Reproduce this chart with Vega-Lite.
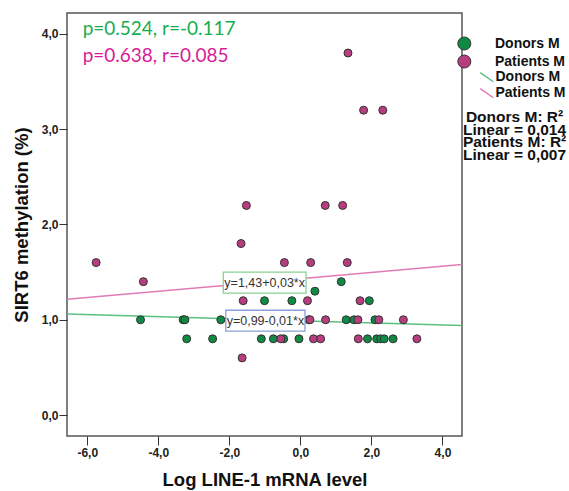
{
  "$schema": "https://vega.github.io/schema/vega-lite/v6.json",
  "width": 395,
  "height": 423,
  "autosize": "none",
  "padding": {"left": 67, "top": 13, "right": 107, "bottom": 55},
  "background": "white",
  "config": {
    "font": "Liberation Sans",
    "view": {"stroke": "#555555", "strokeWidth": 1.5}
  },
  "datasets": {
    "pts": [
      {"group": "Donors M", "x": -4.50, "y": 1.0},
      {"group": "Donors M", "x": -3.30, "y": 1.0},
      {"group": "Donors M", "x": -3.25, "y": 1.0},
      {"group": "Donors M", "x": -2.24, "y": 1.0},
      {"group": "Donors M", "x": -3.20, "y": 0.8},
      {"group": "Donors M", "x": -2.47, "y": 0.8},
      {"group": "Donors M", "x": -1.01, "y": 1.2},
      {"group": "Donors M", "x": -0.24, "y": 1.2},
      {"group": "Donors M", "x": 1.94, "y": 1.2},
      {"group": "Donors M", "x": 1.15, "y": 1.4},
      {"group": "Donors M", "x": 0.41, "y": 1.3},
      {"group": "Donors M", "x": 0.24, "y": 1.0},
      {"group": "Donors M", "x": 1.29, "y": 1.0},
      {"group": "Donors M", "x": 1.51, "y": 1.0},
      {"group": "Donors M", "x": 2.10, "y": 1.0},
      {"group": "Donors M", "x": -1.10, "y": 0.8},
      {"group": "Donors M", "x": -0.76, "y": 0.8},
      {"group": "Donors M", "x": -0.47, "y": 0.8},
      {"group": "Donors M", "x": -0.04, "y": 0.8},
      {"group": "Donors M", "x": 1.89, "y": 0.8},
      {"group": "Donors M", "x": 2.15, "y": 0.8},
      {"group": "Donors M", "x": 2.26, "y": 0.8},
      {"group": "Donors M", "x": 2.36, "y": 0.8},
      {"group": "Donors M", "x": 2.61, "y": 0.8},
      {"group": "Patients M", "x": 1.34, "y": 3.8},
      {"group": "Patients M", "x": 1.78, "y": 3.2},
      {"group": "Patients M", "x": 2.32, "y": 3.2},
      {"group": "Patients M", "x": -1.52, "y": 2.2},
      {"group": "Patients M", "x": 0.70, "y": 2.2},
      {"group": "Patients M", "x": 1.19, "y": 2.2},
      {"group": "Patients M", "x": -1.67, "y": 1.8},
      {"group": "Patients M", "x": -5.75, "y": 1.6},
      {"group": "Patients M", "x": -0.45, "y": 1.6},
      {"group": "Patients M", "x": 0.29, "y": 1.6},
      {"group": "Patients M", "x": 1.32, "y": 1.6},
      {"group": "Patients M", "x": -4.42, "y": 1.4},
      {"group": "Patients M", "x": -1.61, "y": 1.2},
      {"group": "Patients M", "x": 0.20, "y": 1.2},
      {"group": "Patients M", "x": 1.68, "y": 1.2},
      {"group": "Patients M", "x": 0.27, "y": 1.0},
      {"group": "Patients M", "x": 0.71, "y": 1.0},
      {"group": "Patients M", "x": 1.62, "y": 1.0},
      {"group": "Patients M", "x": 2.21, "y": 1.0},
      {"group": "Patients M", "x": 2.90, "y": 1.0},
      {"group": "Patients M", "x": -0.55, "y": 0.8},
      {"group": "Patients M", "x": 0.37, "y": 0.8},
      {"group": "Patients M", "x": 0.57, "y": 0.8},
      {"group": "Patients M", "x": 1.63, "y": 0.8},
      {"group": "Patients M", "x": 3.28, "y": 0.8},
      {"group": "Patients M", "x": -1.64, "y": 0.6}
    ],
    "fits": [
      {"line": "Donors M fit", "x": -6.57, "y": 1.06},
      {"line": "Donors M fit", "x": 4.55, "y": 0.94},
      {"line": "Patients M fit", "x": -6.57, "y": 1.215},
      {"line": "Patients M fit", "x": 4.55, "y": 1.58}
    ],
    "eqs": [
      {"line": "Patients M", "label": "y=1,43+0,03*x", "x1": -2.17, "x2": 0.16, "y1": 1.28, "y2": 1.50, "xc": -1.005, "yc": 1.39},
      {"line": "Donors M", "label": "y=0,99-0,01*x", "x1": -2.10, "x2": 0.13, "y1": 0.88, "y2": 1.10, "xc": -0.985, "yc": 0.99}
    ],
    "stats": [
      {"group": "Donors M", "label": "p=0.524, r=-0.117", "x": -6.13, "y": 3.99},
      {"group": "Patients M", "label": "p=0.638, r=0.085", "x": -6.13, "y": 3.705}
    ],
    "fitnote": [
      {"label": "Donors M: R²\nLinear = 0,014\nPatients M: R²\nLinear = 0,007", "x": 6.03, "y": 3.128}
    ]
  },
  "encoding": {
    "x": {
      "field": "x", "type": "quantitative",
      "scale": {"domain": [-6.57, 4.55], "nice": false, "zero": false},
      "axis": {
        "values": [-6, -4, -2, 0, 2, 4],
        "labelExpr": "(datum.value < 0 ? '-' : '') + replace(format(abs(datum.value), '.1f'), '.', ',')",
        "domain": false, "grid": false,
        "tickSize": 9, "tickColor": "#333333", "tickWidth": 1,
        "labelPadding": 2, "labelFontSize": 12, "labelFontWeight": "bold", "labelColor": "#222222",
        "title": "Log LINE-1 mRNA level", "titleFontSize": 18.5, "titleFontWeight": "bold", "titleColor": "#111111", "titlePadding": 12
      }
    },
    "y": {
      "field": "y", "type": "quantitative",
      "scale": {"domain": [-0.22, 4.22], "nice": false, "zero": false},
      "axis": {
        "values": [0, 1, 2, 3, 4],
        "labelExpr": "replace(format(datum.value, '.1f'), '.', ',')",
        "domain": false, "grid": false,
        "tickSize": 8, "tickColor": "#333333", "tickWidth": 1,
        "labelPadding": 1, "labelFontSize": 12, "labelFontWeight": "bold", "labelColor": "#222222",
        "title": "SIRT6 methylation (%)", "titleFontSize": 18.5, "titleFontWeight": "bold", "titleColor": "#111111", "titlePadding": 10
      }
    }
  },
  "layer": [
    {
      "data": {"name": "fits"},
      "mark": {"type": "line", "strokeWidth": 1.5, "clip": true},
      "encoding": {
        "stroke": {
          "field": "line", "type": "nominal",
          "scale": {"domain": ["Donors M fit", "Patients M fit"], "range": ["#5cbf80", "#e07ab4"]},
          "legend": {
            "orient": "none", "legendX": 412.3, "legendY": 56.7, "title": null, "padding": 0,
            "symbolType": "M-1,-0.7L1,0.7", "symbolSize": 169, "symbolStrokeWidth": 1.5, "symbolFillColor": "transparent",
            "labelExpr": "replace(datum.label, ' fit', '')",
            "labelOffset": 1.2, "labelFontSize": 14, "labelFontWeight": "bold", "labelColor": "#111111",
            "rowPadding": -2.5
          }
        }
      }
    },
    {
      "data": {"name": "pts"},
      "mark": {"type": "circle", "size": 64, "opacity": 1, "stroke": "#333333", "strokeWidth": 1},
      "encoding": {
        "color": {
          "field": "group", "type": "nominal",
          "scale": {"domain": ["Donors M", "Patients M"], "range": ["#0f8a45", "#b83c80"]},
          "legend": {
            "orient": "none", "legendX": 390.3, "legendY": 23.5, "title": null, "padding": 0,
            "symbolType": "circle", "symbolSize": 169, "symbolStrokeColor": "#333333", "symbolStrokeWidth": 1, "symbolOpacity": 1,
            "labelOffset": 23.7, "labelFontSize": 14, "labelFontWeight": "bold", "labelColor": "#111111",
            "rowPadding": 0
          }
        }
      }
    },
    {
      "data": {"name": "eqs"},
      "mark": {"type": "rect", "fill": "white", "strokeWidth": 1.3},
      "encoding": {
        "x": {"field": "x1", "type": "quantitative"},
        "x2": {"field": "x2"},
        "y": {"field": "y1", "type": "quantitative"},
        "y2": {"field": "y2"},
        "stroke": {"condition": {"test": "datum.line == 'Patients M'", "value": "#86d392"}, "value": "#8a9fd8"}
      }
    },
    {
      "data": {"name": "eqs"},
      "mark": {"type": "text", "fontSize": 12.5, "color": "#333333", "align": "center", "baseline": "middle"},
      "encoding": {
        "x": {"field": "xc", "type": "quantitative"},
        "y": {"field": "yc", "type": "quantitative"},
        "text": {"field": "label"}
      }
    },
    {
      "data": {"name": "stats"},
      "mark": {"type": "text", "font": "Lato", "fontSize": 19, "align": "left", "baseline": "alphabetic"},
      "encoding": {
        "text": {"field": "label"},
        "color": {"condition": {"test": "datum.group == 'Donors M'", "value": "#14b050"}, "value": "#d81b96"}
      }
    },
    {
      "data": {"name": "fitnote"},
      "mark": {"type": "text", "fontSize": 15.5, "fontWeight": "bold", "color": "#111111", "align": "center", "baseline": "middle", "lineBreak": "\n", "lineHeight": 12.5, "clip": false},
      "encoding": {
        "text": {"field": "label"}
      }
    }
  ]
}
